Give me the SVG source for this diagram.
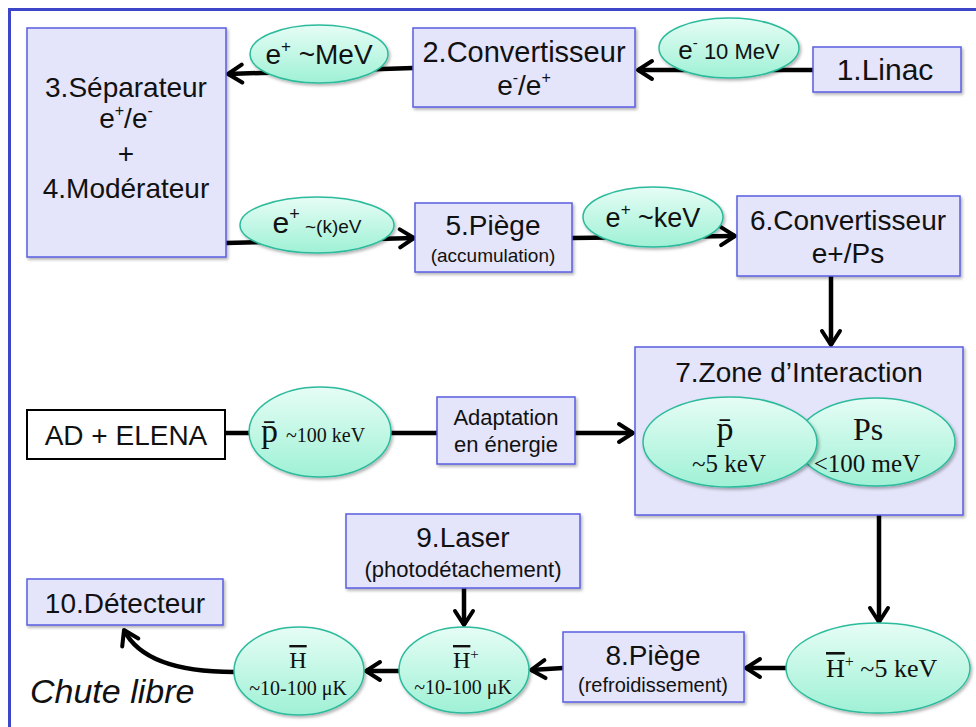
<svg xmlns="http://www.w3.org/2000/svg" width="976" height="727" viewBox="0 0 976 727">
<defs>
<linearGradient id="mint" x1="0" y1="0" x2="0" y2="1">
<stop offset="0" stop-color="#e6fdf5"/>
<stop offset="1" stop-color="#9ff1d6"/>
</linearGradient>
<filter id="sh" x="-10%" y="-10%" width="125%" height="130%">
<feDropShadow dx="1.5" dy="2" stdDeviation="1.5" flood-color="#000" flood-opacity="0.3"/>
</filter>
<marker id="ah" viewBox="-17 -12 20 24" refX="0" refY="0" markerWidth="20" markerHeight="24" markerUnits="userSpaceOnUse" orient="auto">
<path d="M-14,-9 L0,0 L-14,9" fill="none" stroke="#000" stroke-width="4" stroke-linecap="round" stroke-linejoin="round"/>
</marker>
<style>
.box{fill:#e4e4fa;stroke:#5a5ee0;stroke-width:1.5;filter:url(#sh)}
.ell{fill:url(#mint);stroke:#2cbb9c;stroke-width:1.5;filter:url(#sh)}
.con{fill:none;stroke:#000;stroke-width:4.5}
.arr{marker-end:url(#ah)}
.s{font-family:"Liberation Sans",Arial,sans-serif;fill:#111}
.r{font-family:"Liberation Serif","Times New Roman",serif;fill:#111}
.m{text-anchor:middle}
.ov{text-decoration:overline}
</style>
</defs>
<rect x="9.5" y="9.5" width="990" height="740" fill="#fff" stroke="#3d46c8" stroke-width="3"/>

<g id="connectors">
<path class="con arr" d="M813,70 L638,70"/>
<path class="con arr" d="M413,68 L228,74"/>
<path class="con arr" d="M226,243 L414,238"/>
<path class="con arr" d="M572,238 L735,236"/>
<path class="con arr" d="M831,276 L831,345"/>
<path class="con" d="M225,433 L437,433"/>
<path class="con arr" d="M575,433 L633,433"/>
<path class="con arr" d="M879,515 L879,622"/>
<path class="con arr" d="M787,668 L746,668"/>
<path class="con arr" d="M563,668 L531,670"/>
<path class="con arr" d="M464,588 L464,625"/>
<path class="con arr" d="M399,671 L366,671"/>
<path class="con arr" d="M234,672 C185,672 140,662 124,630"/>
</g>

<g id="n1"><rect class="box" x="813" y="47" width="148" height="45"/>
<text class="s m" x="885" y="80" font-size="30">1.Linac</text></g>

<g id="e1"><ellipse class="ell" cx="729" cy="48" rx="70" ry="30"/>
<text class="s m" x="729" y="59" font-size="26">e<tspan font-size="15" dy="-11">-</tspan><tspan font-size="22" dy="11"> 10 MeV</tspan></text></g>

<g id="n2"><rect class="box" x="413" y="28" width="222" height="79"/>
<text class="s m" x="524" y="62" font-size="29">2.Convertisseur</text>
<text class="s m" x="524" y="95" font-size="28">e<tspan font-size="16" dy="-12">-</tspan><tspan dy="12">/e</tspan><tspan font-size="16" dy="-12">+</tspan></text></g>

<g id="e2"><ellipse class="ell" cx="319" cy="54" rx="69" ry="29"/>
<text class="s m" x="319" y="64" font-size="28">e<tspan font-size="17" dy="-12">+</tspan><tspan dy="12"> ~MeV</tspan></text></g>

<g id="n3"><rect class="box" x="27" y="28" width="199" height="229"/>
<text class="s m" x="126" y="97" font-size="28">3.Séparateur</text>
<text class="s m" x="126" y="128" font-size="28">e<tspan font-size="16" dy="-12">+</tspan><tspan dy="12">/e</tspan><tspan font-size="16" dy="-12">-</tspan></text>
<text class="s m" x="126" y="163" font-size="28">+</text>
<text class="s m" x="126" y="198" font-size="28">4.Modérateur</text></g>

<g id="e3"><ellipse class="ell" cx="317" cy="225" rx="77" ry="28"/>
<text class="s m" x="317" y="233" font-size="30">e<tspan font-size="18" dy="-13">+</tspan><tspan font-size="19" dy="13"> ~(k)eV</tspan></text></g>

<g id="n5"><rect class="box" x="415" y="203" width="157" height="69"/>
<text class="s m" x="493" y="235" font-size="28">5.Piège</text>
<text class="s m" x="493" y="262" font-size="19">(accumulation)</text></g>

<g id="e4"><ellipse class="ell" cx="653" cy="217" rx="70" ry="30"/>
<text class="s m" x="653" y="227" font-size="27">e<tspan font-size="17" dy="-12">+</tspan><tspan dy="12"> ~keV</tspan></text></g>

<g id="n6"><rect class="box" x="737" y="196" width="223" height="80"/>
<text class="s m" x="848" y="230" font-size="28">6.Convertisseur</text>
<text class="s m" x="848" y="263" font-size="28">e+/Ps</text></g>

<g id="n7"><rect class="box" x="635" y="347" width="328" height="168"/>
<text class="s m" x="799" y="382" font-size="28">7.Zone d’Interaction</text>
<ellipse class="ell" cx="876" cy="442" rx="79" ry="44"/>
<ellipse class="ell" cx="730" cy="442" rx="87" ry="45"/>
<text class="r m" x="725" y="440" font-size="34">p̄</text>
<text class="r m" x="729" y="472" font-size="25">~5 keV</text>
<text class="r m" x="868" y="440" font-size="32">Ps</text>
<text class="r m" x="867" y="472" font-size="25">&lt;100 meV</text></g>

<g id="nAD"><rect x="27" y="410" width="198" height="49" fill="#fff" stroke="#000" stroke-width="2"/>
<text class="s m" x="126" y="445" font-size="28">AD + ELENA</text></g>

<g id="eP"><ellipse class="ell" cx="320" cy="432" rx="71" ry="45"/>
<text class="r" x="261" y="442" font-size="34">p̄<tspan font-size="20" dx="8">~100 keV</tspan></text></g>

<g id="nA"><rect class="box" x="437" y="397" width="138" height="67"/>
<text class="s m" x="506" y="425" font-size="22">Adaptation</text>
<text class="s m" x="506" y="452" font-size="22">en énergie</text></g>

<g id="eH1"><ellipse class="ell" cx="878" cy="668" rx="92" ry="45"/>
<text class="r" x="826" y="677" font-size="26"><tspan class="ov">H</tspan><tspan font-size="16" dy="-10">+</tspan><tspan dy="10"> ~5 keV</tspan></text></g>

<g id="n8"><rect class="box" x="563" y="632" width="181" height="70"/>
<text class="s m" x="653" y="665" font-size="28">8.Piège</text>
<text class="s m" x="653" y="692" font-size="20">(refroidissement)</text></g>

<g id="n9"><rect class="box" x="346" y="514" width="234" height="74"/>
<text class="s m" x="463" y="547" font-size="28">9.Laser</text>
<text class="s m" x="463" y="577" font-size="22">(photodétachement)</text></g>

<g id="eH2"><ellipse class="ell" cx="464" cy="670" rx="65" ry="43"/>
<text class="r" x="453" y="668" font-size="24"><tspan class="ov">H</tspan><tspan font-size="15" dy="-9">+</tspan></text>
<text class="r m" x="463" y="694" font-size="20">~10-100 μK</text></g>

<g id="eH3"><ellipse class="ell" cx="299" cy="671" rx="65" ry="44"/>
<text class="r m" x="298" y="668" font-size="24"><tspan class="ov">H</tspan></text>
<text class="r m" x="298" y="695" font-size="20">~10-100 μK</text></g>

<g id="n10"><rect class="box" x="27" y="579" width="196" height="46"/>
<text class="s m" x="125" y="613" font-size="28">10.Détecteur</text></g>

<text class="s" x="30" y="703" font-size="34" font-style="italic">Chute libre</text>
</svg>
